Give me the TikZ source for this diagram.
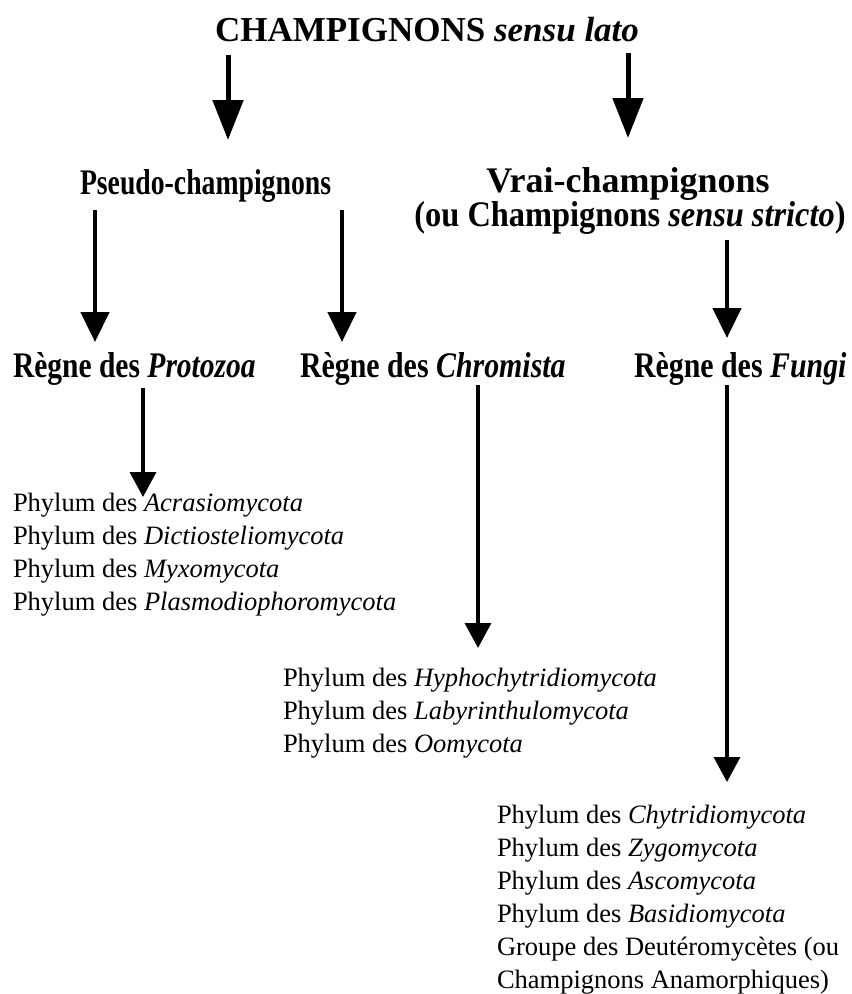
\documentclass[tikz,border=0pt]{standalone}
\usepackage{fontspec}
\usepackage{graphicx}
\setmainfont{Liberation Serif}
\usetikzlibrary{arrows.meta}
\begin{document}
\begin{tikzpicture}[x=1pt,y=-1pt,
  every node/.style={inner sep=0pt,outer sep=0pt},
  ttl/.style={font=\fontsize{35}{40}\selectfont\bfseries,anchor=base},
  hdr/.style={font=\fontsize{36}{40}\selectfont\bfseries},
  phy/.style={font=\fontsize{26.5}{33}\selectfont,anchor=base west},
  bigarrow/.style={line width=5pt,-{Triangle[width=30pt,length=40pt]}},
  midarrow/.style={line width=4.5pt,-{Triangle[width=28pt,length=30pt]}},
  lowarrow/.style={line width=3.5pt,-{Triangle[width=26pt,length=25pt]}}]
\useasboundingbox (0,0) rectangle (852,994);

% texts
\node[ttl] (title) at (427,41) {CHAMPIGNONS \textit{sensu lato}};
\node[hdr,anchor=base west] (pseudo) at (80,194) {\scalebox{0.77}[1]{Pseudo-champignons}};
\node[hdr,anchor=base] (vrai) at (628,192) {\scalebox{1}[1]{Vrai-champignons}};
\node[hdr,anchor=base] (vrai2) at (630,226) {\scalebox{0.9}[1]{(ou Champignons \textit{sensu stricto})}};
\node[hdr,anchor=base west] (proto) at (13,377) {\scalebox{0.82}[1]{Règne des \textit{Protozoa}}};
\node[hdr,anchor=base west] (chrom) at (300,377) {\scalebox{0.83}[1]{Règne des \textit{Chromista}}};
\node[hdr,anchor=base west] (fungi) at (634,377) {\scalebox{0.83}[1]{Règne des \textit{Fungi}}};

\node[phy] (p1) at (13,511) {Phylum des \textit{Acrasiomycota}};
\node[phy] (p2) at (13,544) {Phylum des \textit{Dictiosteliomycota}};
\node[phy] (p3) at (13,577) {Phylum des \textit{Myxomycota}};
\node[phy] (p4) at (13,610) {Phylum des \textit{Plasmodiophoromycota}};

\node[phy] (c1) at (283,686) {Phylum des \textit{Hyphochytridiomycota}};
\node[phy] (c2) at (283,719) {Phylum des \textit{Labyrinthulomycota}};
\node[phy] (c3) at (283,752) {Phylum des \textit{Oomycota}};

\node[phy] (f1) at (497,823) {Phylum des \textit{Chytridiomycota}};
\node[phy] (f2) at (497,856) {Phylum des \textit{Zygomycota}};
\node[phy] (f3) at (497,889) {Phylum des \textit{Ascomycota}};
\node[phy] (f4) at (497,922) {Phylum des \textit{Basidiomycota}};
\node[phy] (f5) at (497,955) {Groupe des Deutéromycètes (ou};
\node[phy] (f6) at (497,988) {Champignons Anamorphiques)};

% arrow end points
\coordinate (a1s) at (228,55);  \coordinate (a1e) at (228,140);
\coordinate (a2s) at (628,53);  \coordinate (a2e) at (628,138);
\coordinate (a3s) at (95,210);  \coordinate (a3e) at (95,342);
\coordinate (a4s) at (342,210); \coordinate (a4e) at (342,342);
\coordinate (a5s) at (727,240); \coordinate (a5e) at (727,338);
\coordinate (a6s) at (143,388); \coordinate (a6e) at (143,497);
\coordinate (a7s) at (478,385); \coordinate (a7e) at (478,648);
\coordinate (a8s) at (727,385); \coordinate (a8e) at (727,782);

\draw[bigarrow] (a1s) -- (a1e);
\draw[bigarrow] (a2s) -- (a2e);
\draw[midarrow] (a3s) -- (a3e);
\draw[midarrow] (a4s) -- (a4e);
\draw[midarrow] (a5s) -- (a5e);
\draw[lowarrow] (a6s) -- (a6e);
\draw[lowarrow] (a7s) -- (a7e);
\draw[lowarrow] (a8s) -- (a8e);
\end{tikzpicture}
\end{document}
